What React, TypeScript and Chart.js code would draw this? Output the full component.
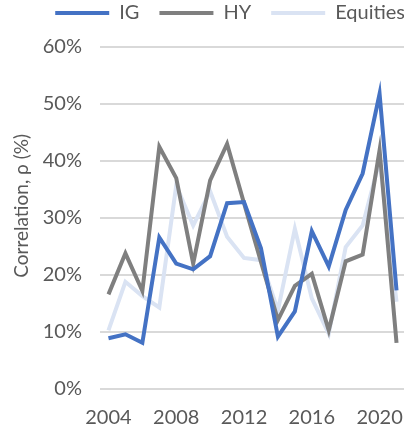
import React, { useEffect, useRef } from "react";
import { Chart, registerables } from "chart.js";

Chart.register(...registerables);

const years = ["2004","2005","2006","2007","2008","2009","2010","2011","2012","2013","2014","2015","2016","2017","2018","2019","2020","2021"];
const igValues = [8.9, 9.6, 8.1, 26.6, 22.0, 21.0, 23.3, 32.6, 32.8, 24.7, 9.2, 13.6, 27.7, 21.5, 31.4, 37.8, 51.8, 17.3];
const hyValues = [16.6, 23.8, 17.2, 42.5, 37.0, 22.0, 36.6, 43.0, 32.6, 22.3, 12.1, 18.1, 20.2, 10.3, 22.4, 23.6, 41.9, 8.1];
const eqValues = [10.3, 18.8, 16.3, 14.3, 35.7, 28.7, 34.7, 26.7, 23.0, 22.6, 13.8, 28.1, 15.9, 9.7, 24.9, 28.7, 40.1, 15.3];
const seriesNames = ["IG", "HY", "Equities"];
const yTitle = "     Correlation, ρ (%)";

const FONT = "Lato, 'Noto Sans', sans-serif";
const TEXT = "#595959";

export default function App() {
  const ref = useRef<HTMLCanvasElement>(null);
  useEffect(() => {
    if (!ref.current) return;
    const mk = (label: string, data: number[], color: string) => ({
      label,
      data,
      borderColor: color,
      backgroundColor: color,
      borderWidth: 4,
      pointRadius: 0,
      tension: 0,
      fill: false,
    });
    const chart = new Chart(ref.current, {
      type: "line",
      data: {
        labels: years,
        datasets: [
          mk(seriesNames[0], igValues, "#4472C4"),
          mk(seriesNames[1], hyValues, "#7F7F7F"),
          mk(seriesNames[2], eqValues, "#DAE3F3"),
        ],
      },
      options: {
        responsive: false,
        animation: false,
        layout: { padding: { top: -17, left: 0, right: 0, bottom: 0 } },
        plugins: {
          tooltip: { enabled: false },
          legend: {
            position: "top",
            align: "end",
            labels: {
              boxWidth: 54,
              boxHeight: 4,
              padding: 20,
              color: TEXT,
              font: { family: FONT, size: 20 },
              generateLabels: (c: any) =>
                Chart.defaults.plugins.legend.labels.generateLabels(c).map((l: any) => ({
                  ...l,
                  lineWidth: 0,
                  fillStyle: l.strokeStyle,
                })),
            },
          },
        },
        scales: {
          x: {
            type: "category",
            offset: true,
            grid: { display: false, drawTicks: false },
            border: { display: false },
            ticks: {
              autoSkip: false,
              maxRotation: 0,
              padding: 17,
              color: TEXT,
              font: { family: FONT, size: 20 },
              callback: (_v: any, i: number) => (i % 4 === 0 ? years[i] : null),
            },
            afterFit: (s: any) => { s.height = 41; },
          },
          x2: {
            type: "linear",
            position: "top",
            display: true,
            grid: { display: false, drawTicks: false },
            border: { display: false },
            ticks: { display: false },
            afterFit: (s: any) => { s.height = 14; },
          },
          y: {
            min: 0,
            max: 60,
            grid: { color: "#D9D9D9", lineWidth: 2, drawTicks: false },
            border: { display: false },
            ticks: {
              stepSize: 10,
              padding: 18,
              color: TEXT,
              font: { family: FONT, size: 20 },
              callback: (v: any) => v + "%",
            },
            title: {
              display: true,
              text: yTitle,
              color: TEXT,
              font: { family: FONT, size: 19 },
              padding: { top: 10, bottom: 0 },
            },
            afterFit: (s: any) => { s.width = 100; },
          },
          y2: {
            position: "right",
            display: true,
            grid: { display: false, drawTicks: false },
            border: { display: false },
            ticks: { display: false },
            afterFit: (s: any) => { s.width = 20; },
          },
        },
      },
    });
    return () => chart.destroy();
  }, []);
  return (
    <div style={{ position: "fixed", left: 0, top: 0, width: 425, height: 430, background: "#fff" }}>
      <canvas ref={ref} width={425} height={430} style={{ display: "block" }} />
    </div>
  );
}
